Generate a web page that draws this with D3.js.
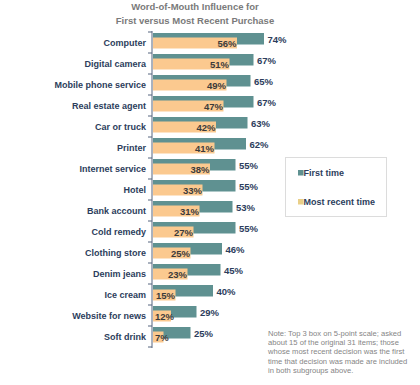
<!DOCTYPE html>
<html>
<head>
<meta charset="utf-8">
<script src="https://cdn.jsdelivr.net/npm/d3@7"></script>
<style>
  body { margin: 0; background: #fff; }
  text { font-family: Arial, "Liberation Sans", sans-serif; }
</style>
</head>
<body>
<script>
const categories = ["Computer", "Digital camera", "Mobile phone service", "Real estate agent",
  "Car or truck", "Printer", "Internet service", "Hotel", "Bank account", "Cold remedy",
  "Clothing store", "Denim jeans", "Ice cream", "Website for news", "Soft drink"];
const firstTime = [74, 67, 65, 67, 63, 62, 55, 55, 53, 55, 46, 45, 40, 29, 25];
const mostRecent = [56, 51, 49, 47, 42, 41, 38, 33, 31, 27, 25, 23, 15, 12, 7];
const seriesNames = ["First time", "Most recent time"];
const titleLines = ["Word-of-Mouth Influence for", "First versus Most Recent Purchase"];
const noteLines = ["Note: Top 3 box on 5-point scale; asked",
  "about 15 of the original 31 items; those",
  "whose most recent decision was the first",
  "time that decision was made are included",
  "in both subgroups above."];

const width = 420, height = 385;
const teal = "#5f9191", orange = "#fbc98f", navy = "#2c3d5c";

const svg = d3.select("body").append("svg")
  .attr("width", width).attr("height", height);

const x = d3.scaleLinear().domain([0, 100]).range([153, 303]);
const y = d3.scaleBand().domain(categories).range([32, 347]);
const bw = y.bandwidth();

// title
svg.selectAll(".title").data(titleLines).enter().append("text")
  .attr("x", 195).attr("y", (d, i) => 10 + i * 13.5)
  .attr("text-anchor", "middle")
  .attr("font-size", 9.5).attr("font-weight", "bold")
  .attr("fill", "#7a7a7a").text(d => d);

// teal bars (first time)
svg.selectAll(".first").data(categories).enter().append("rect")
  .attr("x", x(0)).attr("y", d => y(d) + 1)
  .attr("width", (d, i) => x(firstTime[i]) - x(0))
  .attr("height", 11.5).attr("fill", teal);

// orange bars (most recent) on top
svg.selectAll(".recent").data(categories).enter().append("rect")
  .attr("x", x(0)).attr("y", d => y(d) + 5.5)
  .attr("width", (d, i) => x(mostRecent[i]) - x(0))
  .attr("height", 11).attr("fill", orange);

// axis
const axis = svg.append("g").attr("transform", `translate(${x(0) - 1},0)`);
axis.append("line").attr("y1", 31).attr("y2", 348)
  .attr("stroke", "#55657f").attr("stroke-width", 1);
axis.selectAll(".tick").data(d3.range(categories.length + 1)).enter().append("line")
  .attr("x1", -4).attr("x2", 0)
  .attr("y1", i => 32 + i * bw).attr("y2", i => 32 + i * bw)
  .attr("stroke", "#55657f");

// category labels
svg.selectAll(".cat").data(categories).enter().append("text")
  .attr("x", 146).attr("y", d => y(d) + bw / 2 + 3)
  .attr("text-anchor", "end")
  .attr("font-size", 9).attr("font-weight", "bold")
  .attr("fill", navy).text(d => d);

// first-time values
svg.selectAll(".fv").data(categories).enter().append("text")
  .attr("x", (d, i) => x(firstTime[i]) + 3.5)
  .attr("y", d => y(d) + 10.5)
  .attr("font-size", 9.5).attr("font-weight", "bold")
  .attr("fill", navy).text((d, i) => firstTime[i] + "%");

// most-recent values inside orange bar
svg.selectAll(".rv").data(categories).enter().append("text")
  .attr("y", d => y(d) + 14.5)
  .attr("font-size", 9.5).attr("font-weight", "bold")
  .attr("fill", "#3b3b3b").text((d, i) => mostRecent[i] + "%")
  .each(function(d, i) {
    const w = this.getComputedTextLength();
    const end = x(mostRecent[i]);
    this.setAttribute("x", Math.max(x(0) + 2, end - w - 0.5));
  });

// legend
const lg = svg.append("g");
lg.append("rect").attr("x", 285.5).attr("y", 157.5).attr("width", 101).attr("height", 59)
  .attr("fill", "#fff").attr("stroke", "#dcdcdc");
const legendColors = [teal, "#e9cf88"];
seriesNames.forEach((name, i) => {
  lg.append("rect").attr("x", 298).attr("y", 170 + i * 29).attr("width", 5.5).attr("height", 5.5)
    .attr("fill", legendColors[i]);
  lg.append("text").attr("x", 303.5).attr("y", 176 + i * 29)
    .attr("font-size", 9).attr("font-weight", "bold")
    .attr("fill", navy).text(name);
});

// note
svg.selectAll(".note").data(noteLines).enter().append("text")
  .attr("x", 268).attr("y", (d, i) => 335.5 + i * 9.4)
  .attr("font-size", 7.6).attr("fill", "#858585").text(d => d);
</script>
</body>
</html>
